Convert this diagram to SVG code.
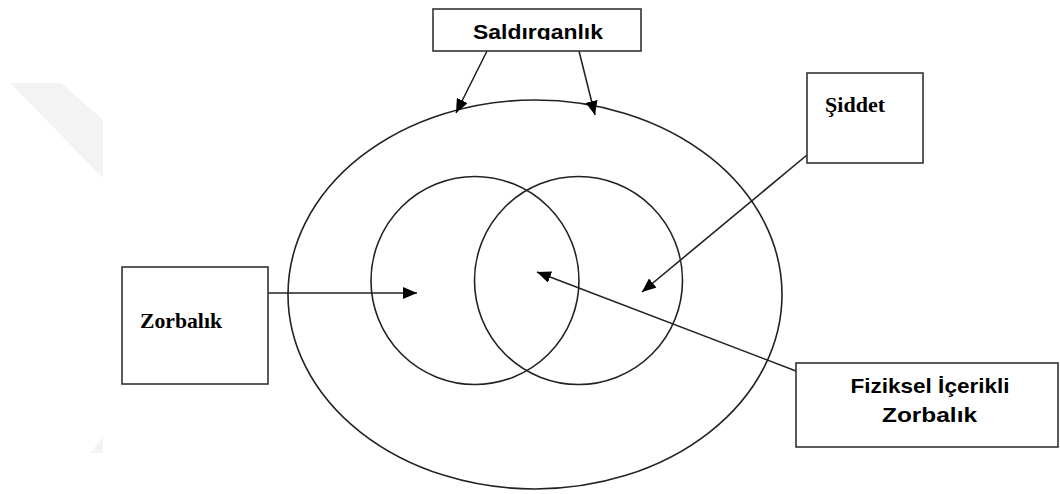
<svg xmlns="http://www.w3.org/2000/svg" width="1060" height="494" viewBox="0 0 1060 494">
<style>
.box{fill:#fff;stroke:#333;stroke-width:1.6}
.shape{fill:none;stroke:#222;stroke-width:1.6}
.conn{fill:none;stroke:#222;stroke-width:1.6;marker-end:url(#arr)}
.sans{font-family:"Liberation Sans",Arial,sans-serif;font-weight:bold;font-size:21px;fill:#000}
.serif{font-family:"Liberation Serif","Times New Roman",serif;font-weight:bold;font-size:21px;fill:#000}
</style>
<defs>
<marker id="arr" markerUnits="userSpaceOnUse" markerWidth="14" markerHeight="12" viewBox="0 0 14 12" refX="14" refY="6" orient="auto">
<path d="M0,0 L14,6 L0,12 z" fill="#000"/>
</marker>
<clipPath id="clipS"><rect x="433" y="9" width="208" height="31"/></clipPath>
</defs>
<rect width="1060" height="494" fill="#fff"/>
<g id="watermark" fill="#f3f3f3">
<polygon points="10,83 61,83 103,120 103,178"/>
<polygon points="90,453 103,453 103,437"/>
</g>
<g id="outer-ellipse"><ellipse class="shape" cx="535" cy="294.5" rx="247" ry="194.5"/></g>
<g id="circle-left"><circle class="shape" cx="475" cy="280.5" r="104"/></g>
<g id="circle-right"><circle class="shape" cx="578.5" cy="280.5" r="104"/></g>
<g id="connectors">
<line class="conn" x1="487" y1="51" x2="456" y2="113"/>
<line class="conn" x1="579" y1="51" x2="595" y2="115"/>
<line class="conn" x1="268" y1="293" x2="417" y2="293"/>
<line class="conn" x1="807" y1="155" x2="642" y2="292"/>
<line class="conn" x1="796" y1="371" x2="537" y2="272"/>
</g>
<g id="saldirganlik">
<rect class="box" x="433" y="9" width="208" height="42"/>
<text class="sans" x="538" y="39" text-anchor="middle" textLength="130" lengthAdjust="spacingAndGlyphs" clip-path="url(#clipS)">Saldırganlık</text>
</g>
<g id="siddet">
<rect class="box" x="807" y="73" width="116" height="90"/>
<text class="serif" x="825" y="112" textLength="60" lengthAdjust="spacingAndGlyphs">Şiddet</text>
</g>
<g id="zorbalik">
<rect class="box" x="122" y="267" width="146" height="117"/>
<text class="serif" x="140" y="328" textLength="82" lengthAdjust="spacingAndGlyphs">Zorbalık</text>
</g>
<g id="fiziksel">
<rect class="box" x="796" y="363" width="262" height="84"/>
<text class="sans" x="930" y="393" text-anchor="middle" textLength="159" lengthAdjust="spacingAndGlyphs">Fiziksel İçerikli</text>
<text class="sans" x="929.5" y="422" text-anchor="middle" textLength="95" lengthAdjust="spacingAndGlyphs">Zorbalık</text>
</g>
</svg>
